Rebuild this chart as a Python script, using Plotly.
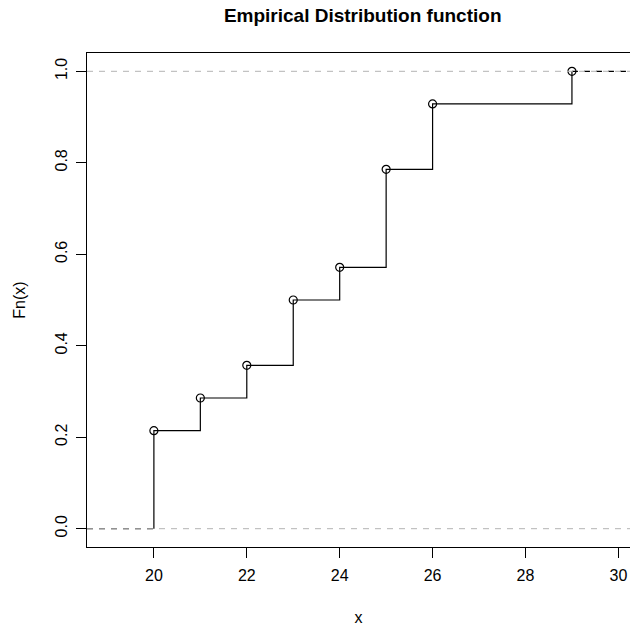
import plotly.graph_objects as go

x_knots = [20, 21, 22, 23, 24, 25, 26, 29]
fn_vals = [3/14, 4/14, 5/14, 7/14, 8/14, 11/14, 13/14, 14/14]
x_ticks = [20, 22, 24, 26, 28, 30]
y_ticks = [0.0, 0.2, 0.4, 0.6, 0.8, 1.0]

x_range = [18.56, 30.25]
y_range = [-0.04, 1.04]

FONT = "Liberation Sans, Arial, Helvetica, sans-serif"

fig = go.Figure()

# solid step part
sx = [x_knots[0]] + x_knots
sy = [0] + fn_vals
fig.add_trace(go.Scatter(x=sx, y=sy, mode="lines", line=dict(color="black", width=1.2, shape="hv"),
                         hoverinfo="skip", showlegend=False))
# dashed extensions
fig.add_trace(go.Scatter(x=[x_range[0], x_knots[0]], y=[0, 0], mode="lines",
                         line=dict(color="black", width=1.2, dash="6px,6px"), showlegend=False))
fig.add_trace(go.Scatter(x=[x_knots[-1], x_range[1]], y=[fn_vals[-1], fn_vals[-1]], mode="lines",
                         line=dict(color="black", width=1.2, dash="6px,6px"), showlegend=False))
# points
fig.add_trace(go.Scatter(x=x_knots, y=fn_vals, mode="markers",
                         marker=dict(symbol="circle-open", size=8, color="black", line=dict(width=1.2)),
                         showlegend=False))

for h in [0, 1]:
    fig.add_shape(type="line", xref="paper", x0=0, x1=1, yref="y", y0=h, y1=h,
                  line=dict(color="#b3b3b3", width=1, dash="6px,6px"), layer="above")

fig.update_layout(
    width=630, height=626,
    margin=dict(l=87, r=0, t=53, b=79),
    paper_bgcolor="white", plot_bgcolor="white",
    font=dict(family=FONT, size=16, color="black"),
    title=dict(text="<b>Empirical Distribution function</b>", x=362.7/630, xanchor="center",
               y=1 - 15/626, yanchor="middle", font=dict(size=19, family=FONT, color="black")),
    xaxis=dict(range=x_range, tickvals=x_ticks, ticks="outside", ticklen=10, tickwidth=1,
               tickcolor="black", showline=True, linecolor="black", linewidth=1, mirror=True,
               showgrid=False, zeroline=False, ticklabelstandoff=4,
               title=dict(text="x", font=dict(size=16), standoff=28)),
    yaxis=dict(range=y_range, tickvals=y_ticks, tickformat=".1f", tickangle=-90, ticks="outside",
               ticklen=10, tickwidth=1, tickcolor="black", showline=True, linecolor="black",
               linewidth=1, mirror=False, showgrid=False, zeroline=False, ticklabelstandoff=3,
               title=dict(text="Fn(x)", font=dict(size=16), standoff=22)),
)

fig.write_html("out.html")
